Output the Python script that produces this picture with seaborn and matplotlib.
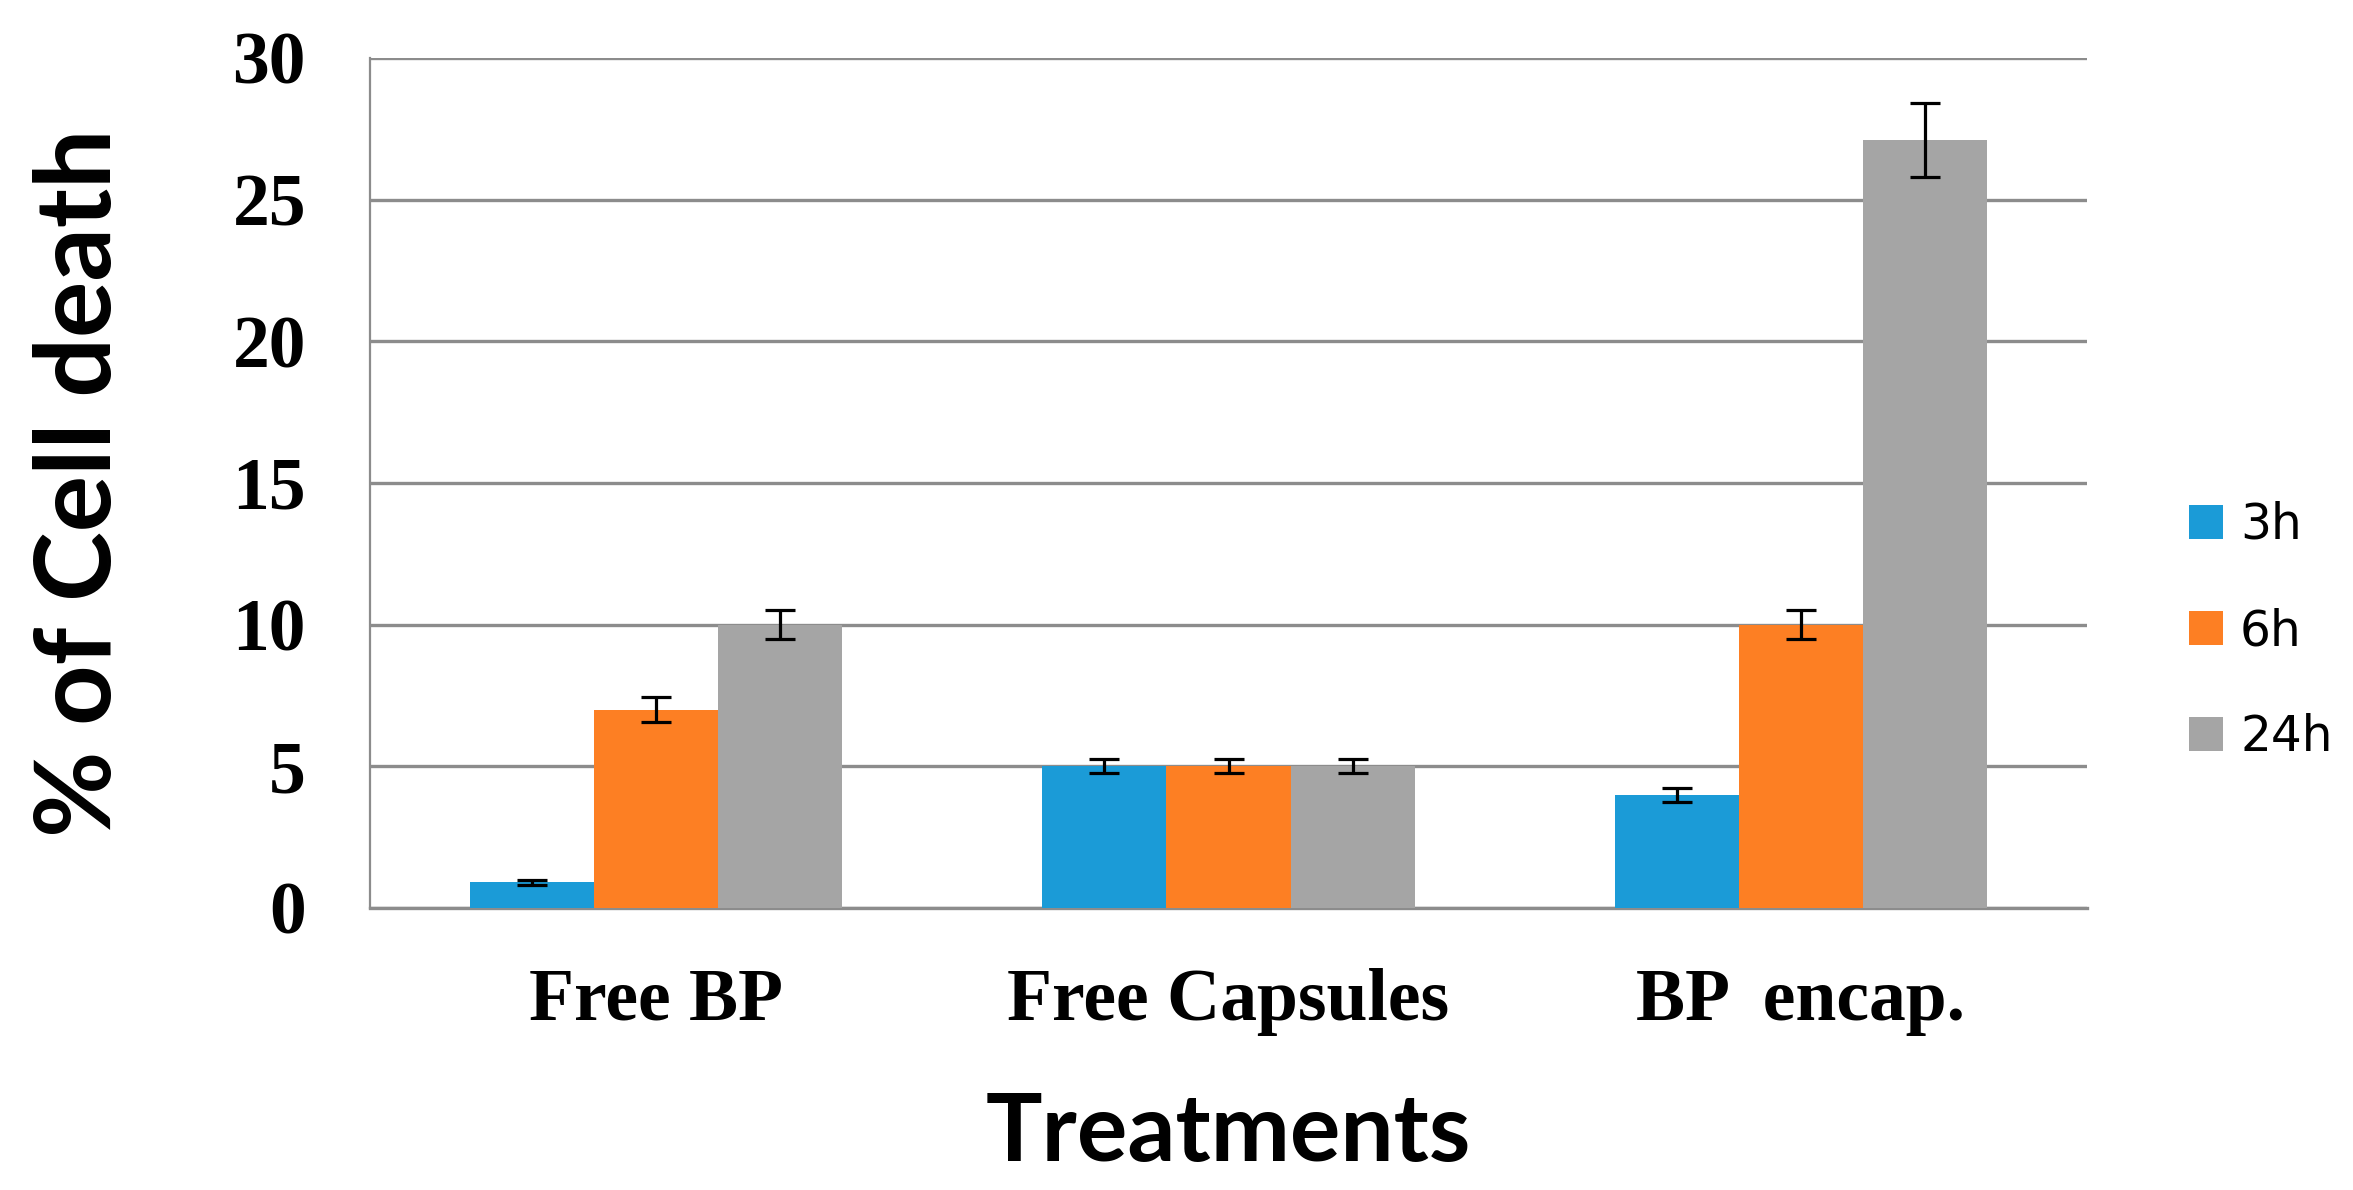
import pandas as pd
import matplotlib.pyplot as plt
import seaborn as sns

# 数据
treatments = ['Free BP', 'Free Capsules', 'BP  encap.']
times = ['3h', '6h', '24h']
death_3h = [0.9, 5.0, 4.0]
death_6h = [7.0, 5.0, 10.0]
death_24h = [10.0, 5.0, 27.1]
err_3h = [0.1, 0.25, 0.25]
err_6h = [0.45, 0.25, 0.5]
err_24h = [0.5, 0.25, 1.3]

colors = ['#1b9bd7', '#fd7f23', '#a5a5a5']
grid_gray = '#8c8c8c'

rows = []
for t, vals, errs in zip(times, [death_3h, death_6h, death_24h], [err_3h, err_6h, err_24h]):
    for tr, v, e in zip(treatments, vals, errs):
        rows.append({'Treatment': tr, 'Time': t, 'Death': v, 'Err': e})
df = pd.DataFrame(rows)

sns.set_style('white')
plt.rcParams['font.family'] = ['DejaVu Sans']
plt.rcParams['text.color'] = 'black'
plt.rcParams['axes.labelcolor'] = 'black'

fig = plt.figure(figsize=(23.53, 11.90), dpi=100)
ax = fig.add_axes([0.1572, 0.2370, 0.7298, 0.7143])

sns.barplot(data=df, x='Treatment', y='Death', hue='Time', order=treatments,
            hue_order=times, palette=colors, width=0.65, errorbar=None,
            saturation=1, linewidth=0, ax=ax, zorder=3)

# 误差线: 按柱子的中心位置画
for container, t in zip(ax.containers, times):
    sub = df[df['Time'] == t].set_index('Treatment').loc[treatments]
    xs = [p.get_x() + p.get_width() / 2 for p in container]
    ax.errorbar(xs, sub['Death'], yerr=sub['Err'], fmt='none', ecolor='black',
                elinewidth=2.3, capsize=11, capthick=2.3, zorder=4)

ax.set_ylim(0, 30)
ax.set_xlim(-0.5, 2.5)
ax.set_yticks(range(0, 31, 5))
ax.yaxis.grid(True, color=grid_gray, lw=2.4, zorder=0)
ax.set_axisbelow(True)

for s in ['top', 'right']:
    ax.spines[s].set_visible(False)
ax.spines['left'].set_color(grid_gray)
ax.spines['left'].set_linewidth(1.6)
ax.spines['bottom'].set_color(grid_gray)
ax.spines['bottom'].set_linewidth(2.4)

ax.tick_params(axis='x', length=0, pad=43, labelcolor='black')
ax.tick_params(axis='y', length=13, width=2.4, color=grid_gray, pad=33, labelcolor='black')
for lab in ax.get_xticklabels() + ax.get_yticklabels():
    lab.set_fontfamily('Liberation Serif')
    lab.set_fontweight('bold')
    lab.set_fontsize(53)

ax.set_xlabel('Treatments', fontfamily='Lato', fontweight='bold', fontsize=68)
ax.xaxis.set_label_coords(0.5, -0.215)
ax.set_ylabel('% of Cell death', fontfamily='Lato', fontweight='bold', fontsize=76)
ax.yaxis.set_label_coords(-0.14, 0.5)

handles, labels = ax.get_legend_handles_labels()
leg = ax.legend(handles, labels, loc='center left', bbox_to_anchor=(0.9303, 0.4697),
                bbox_transform=fig.transFigure, frameon=False, fontsize=35,
                handlelength=0.7, handleheight=0.7, handletextpad=0.35,
                labelspacing=1.2, borderpad=0, borderaxespad=0)
for txt in leg.get_texts():
    txt.set_color('black')

plt.savefig('out.png', dpi=100)
